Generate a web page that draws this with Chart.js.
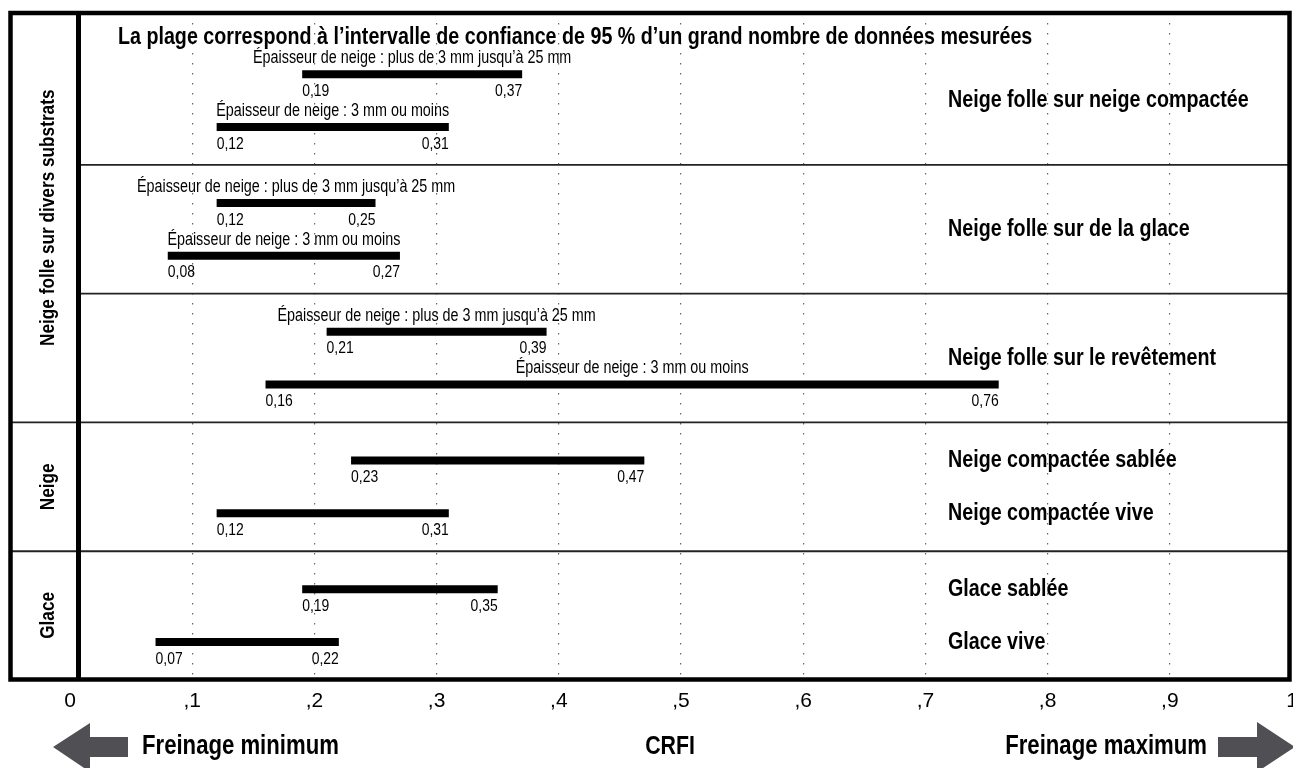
<!DOCTYPE html>
<html lang="fr">
<head>
    <meta charset="UTF-8">
    <title>CRFI</title>
    <script src="https://cdn.jsdelivr.net/npm/chart.js@4"></script>
    <style>
        body { margin: 0; background: #fff; overflow: hidden; }
        canvas { display: block; }
    </style>
</head>
<body>
    <canvas id="crfiChart" width="1293" height="768"></canvas>

<script>
    // data
    const titleText = "La plage correspond à l’intervalle de confiance de 95 % d’un grand nombre de données mesurées";
    const panelNames = ["Neige folle sur neige compactée", "Neige folle sur de la glace", "Neige folle sur le revêtement", "", ""];
    const upperNames = [
        "Épaisseur de neige : plus de 3 mm jusqu’à 25 mm",
        "Épaisseur de neige : plus de 3 mm jusqu’à 25 mm",
        "Épaisseur de neige : plus de 3 mm jusqu’à 25 mm",
        "Neige compactée sablée",
        "Glace sablée"
    ];
    const lowerNames = [
        "Épaisseur de neige : 3 mm ou moins",
        "Épaisseur de neige : 3 mm ou moins",
        "Épaisseur de neige : 3 mm ou moins",
        "Neige compactée vive",
        "Glace vive"
    ];
    const upperMin = [0.19, 0.12, 0.21, 0.23, 0.19];
    const upperMax = [0.37, 0.25, 0.39, 0.47, 0.35];
    const lowerMin = [0.12, 0.08, 0.16, 0.12, 0.07];
    const lowerMax = [0.31, 0.27, 0.76, 0.31, 0.22];
    const groupNames = ["Neige folle sur divers substrats", "Neige", "Glace"];
    const groupSizes = [3, 1, 1];
    const tickLabels = ["0", ",1", ",2", ",3", ",4", ",5", ",6", ",7", ",8", ",9", "1"];
    const axisName = "CRFI";
    const leftNote = "Freinage minimum";
    const rightNote = "Freinage maximum";

    // no narrow font installed: squeeze Liberation Sans instead
    const family = '"Liberation Sans", Arial, sans-serif';
    const squeeze = 0.82;

    function fmt(v) {
        return v.toFixed(2).replace(".", ",");
    }

    function drawText(ctx, text, x, y, font, align, angle) {
        ctx.save();
        ctx.font = font;
        ctx.textAlign = align;
        ctx.textBaseline = "middle";
        ctx.translate(x, y);
        if (angle) ctx.rotate(angle);
        ctx.scale(squeeze, 1);
        ctx.fillText(text, 0, 0);
        ctx.restore();
    }

    // frame box (pixels)
    const frame = { left: 10.5, top: 13, right: 1289.5, bottom: 679.5, divider: 78.5 };

    const decorations = {
        id: "decorations",
        afterDatasetsDraw(chart) {
            const ctx = chart.ctx;
            const x = chart.scales.x;
            const y = chart.scales.y;
            ctx.save();
            ctx.fillStyle = "#000";

            drawText(ctx, titleText, 118, 37, "bold 24px " + family, "left");

            const sets = [[upperMin, upperMax, upperNames], [lowerMin, lowerMax, lowerNames]];
            for (let d = 0; d < 2; d++) {
                const meta = chart.getDatasetMeta(d);
                const [mins, maxs, names] = sets[d];
                for (let i = 0; i < mins.length; i++) {
                    const by = meta.data[i].y;
                    const x0 = x.getPixelForValue(mins[i]);
                    const x1 = x.getPixelForValue(maxs[i]);

                    drawText(ctx, fmt(mins[i]), x0, by + 17, "17px " + family, "left");
                    drawText(ctx, fmt(maxs[i]), x1, by + 17, "17px " + family, "right");

                    if (panelNames[i]) {
                        drawText(ctx, names[i], (x0 + x1) / 2, by - 16, "17.5px " + family, "center");
                    } else {
                        drawText(ctx, names[i], 948, by, "bold 24px " + family, "left");
                    }
                }
            }

            panelNames.forEach(function (name, i) {
                if (name) drawText(ctx, name, 948, y.getPixelForValue(i), "bold 24px " + family, "left");
            });
            ctx.restore();
        },
        afterDraw(chart) {
            const ctx = chart.ctx;
            const y = chart.scales.y;
            ctx.save();

            // separators between panels
            let groupEnds = [];
            let acc = 0;
            groupSizes.forEach(function (s) { acc += s; groupEnds.push(acc); });
            ctx.strokeStyle = "#222";
            ctx.lineWidth = 1.8;
            for (let k = 1; k < panelNames.length; k++) {
                const py = y.getPixelForValue(k - 0.5);
                const startX = groupEnds.includes(k) ? frame.left : frame.divider;
                ctx.beginPath();
                ctx.moveTo(startX, py);
                ctx.lineTo(frame.right, py);
                ctx.stroke();
            }

            // frame
            ctx.strokeStyle = "#000";
            ctx.lineWidth = 4.5;
            ctx.strokeRect(frame.left, frame.top, frame.right - frame.left, frame.bottom - frame.top);
            ctx.lineWidth = 5;
            ctx.beginPath();
            ctx.moveTo(frame.divider, frame.top);
            ctx.lineTo(frame.divider, frame.bottom);
            ctx.stroke();

            // group names (vertical)
            ctx.fillStyle = "#000";
            let start = 0;
            groupNames.forEach(function (name, g) {
                const end = start + groupSizes[g] - 1;
                const top = start === 0 ? frame.top : y.getPixelForValue(start - 0.5);
                const bottom = end === panelNames.length - 1 ? frame.bottom : y.getPixelForValue(end + 0.5);
                drawText(ctx, name, 48, (top + bottom) / 2, "bold 21px " + family, "center", -Math.PI / 2);
                start = end + 1;
            });

            // bottom row: arrows and notes
            ctx.fillStyle = "#4f4f54";
            ctx.beginPath();
            ctx.moveTo(53, 747);
            ctx.lineTo(90, 723);
            ctx.lineTo(90, 737);
            ctx.lineTo(128, 737);
            ctx.lineTo(128, 757);
            ctx.lineTo(90, 757);
            ctx.lineTo(90, 772);
            ctx.closePath();
            ctx.fill();

            ctx.beginPath();
            ctx.moveTo(1295, 747);
            ctx.lineTo(1257, 722);
            ctx.lineTo(1257, 737);
            ctx.lineTo(1218, 737);
            ctx.lineTo(1218, 757);
            ctx.lineTo(1257, 757);
            ctx.lineTo(1257, 772);
            ctx.closePath();
            ctx.fill();

            ctx.fillStyle = "#000";
            drawText(ctx, leftNote, 142, 747, "bold 27px " + family, "left");
            drawText(ctx, rightNote, 1207, 747, "bold 27px " + family, "right");
            drawText(ctx, axisName, 670, 747, "bold 26px " + family, "center");
            ctx.restore();
        }
    };

    new Chart("crfiChart", {
        type: "bar",
        data: {
            datasets: [{
                data: upperMin.map(function (v, i) { return { y: i, x: [v, upperMax[i]] }; }),
                backgroundColor: "#000",
                categoryPercentage: 0.82,
                barPercentage: 1,
                maxBarThickness: 8
            }, {
                data: lowerMin.map(function (v, i) { return { y: i, x: [v, lowerMax[i]] }; }),
                backgroundColor: "#000",
                categoryPercentage: 0.82,
                barPercentage: 1,
                maxBarThickness: 8
            }]
        },
        options: {
            indexAxis: "y",
            responsive: false,
            animation: false,
            layout: {
                padding: { left: 70, right: 1, top: 13, bottom: 52 }
            },
            plugins: {
                legend: { display: false },
                tooltip: { enabled: false }
            },
            scales: {
                x: {
                    type: "linear",
                    min: 0,
                    max: 1,
                    ticks: {
                        stepSize: 0.1,
                        autoSkip: false,
                        maxRotation: 0,
                        padding: 9,
                        color: "#000",
                        font: { family: family, size: 21 },
                        callback: function (v, i) { return tickLabels[i]; }
                    },
                    grid: {
                        drawTicks: false,
                        lineWidth: 1.2,
                        color: function (c) {
                            const v = c.tick ? c.tick.value : 0;
                            return (v > 0.001 && v < 0.999) ? "#666" : "rgba(0,0,0,0)";
                        }
                    },
                    border: { display: false, dash: [1.5, 8.5] },
                    afterFit: function (scale) {
                        scale.paddingLeft = 0;
                        scale.paddingRight = 0;
                        scale.height = 36;
                    }
                },
                y: {
                    type: "linear",
                    min: -0.68,
                    max: 4.5,
                    offset: false,
                    reverse: true,
                    display: false,
                    afterBuildTicks: function (scale) {
                        scale.ticks = panelNames.map(function (n, i) { return { value: i }; });
                    }
                }
            }
        },
        plugins: [decorations]
    });
</script>
</body>
</html>
